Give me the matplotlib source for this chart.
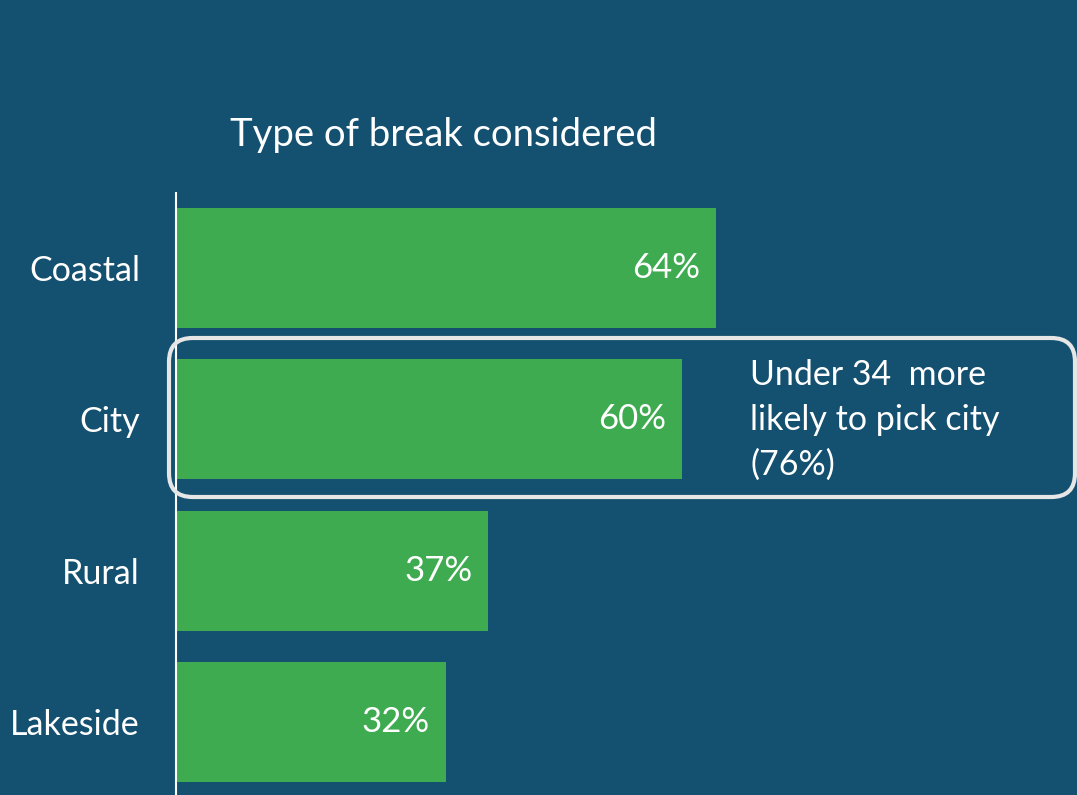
import matplotlib
matplotlib.use("Agg")
import matplotlib.pyplot as plt
from matplotlib.patches import FancyBboxPatch

categories = ["Coastal", "City", "Rural", "Lakeside"]
values = [64, 60, 37, 32]
note = "Under 34  more\nlikely to pick city\n(76%)"

bg = "#14506F"
green = "#3FAB50"

plt.rcParams["font.family"] = ["Lato", "DejaVu Sans"]

W, H = 1077, 795
fig = plt.figure(figsize=(W / 100, H / 100), dpi=100, facecolor=bg)
ax = fig.add_axes([176 / W, 0, 843.75 / W, (795 - 193) / H])
ax.set_facecolor(bg)

ypos = list(range(len(categories)))
ax.barh(ypos, values, height=0.793, color=green)
ax.set_xlim(0, 100)
ax.set_ylim(3.482, -0.496)

for y, v in zip(ypos, values):
    ax.text(v - 1.9, y, f"{v}%", ha="right", va="center", color="white", fontsize=25)

ax.set_yticks(ypos)
ax.set_yticklabels(categories, fontsize=24.5, color="white")
ax.tick_params(axis="y", length=0, pad=26)
ax.set_xticks([])
for side in ["top", "right", "bottom"]:
    ax.spines[side].set_visible(False)
ax.spines["left"].set_color("white")
ax.spines["left"].set_linewidth(1.5)

fig.text(444 / W, 1 - 135 / H, "Type of break considered", ha="center", va="center",
         color="white", fontsize=27.5)

# highlight box around the City row
box = FancyBboxPatch((169 / W, 1 - 497 / H), (1075 - 169) / W, (497 - 338) / H,
                     boxstyle="round,pad=0,rounding_size=0.022",
                     transform=fig.transFigure, fill=False,
                     edgecolor="#E6E6E6", linewidth=3, mutation_aspect=W / H)
fig.add_artist(box)
fig.text(750 / W, 1 - 420 / H, note, ha="left", va="center", color="white",
         fontsize=24.5, linespacing=1.5)

fig.savefig("out.png", dpi=100, facecolor=bg)
